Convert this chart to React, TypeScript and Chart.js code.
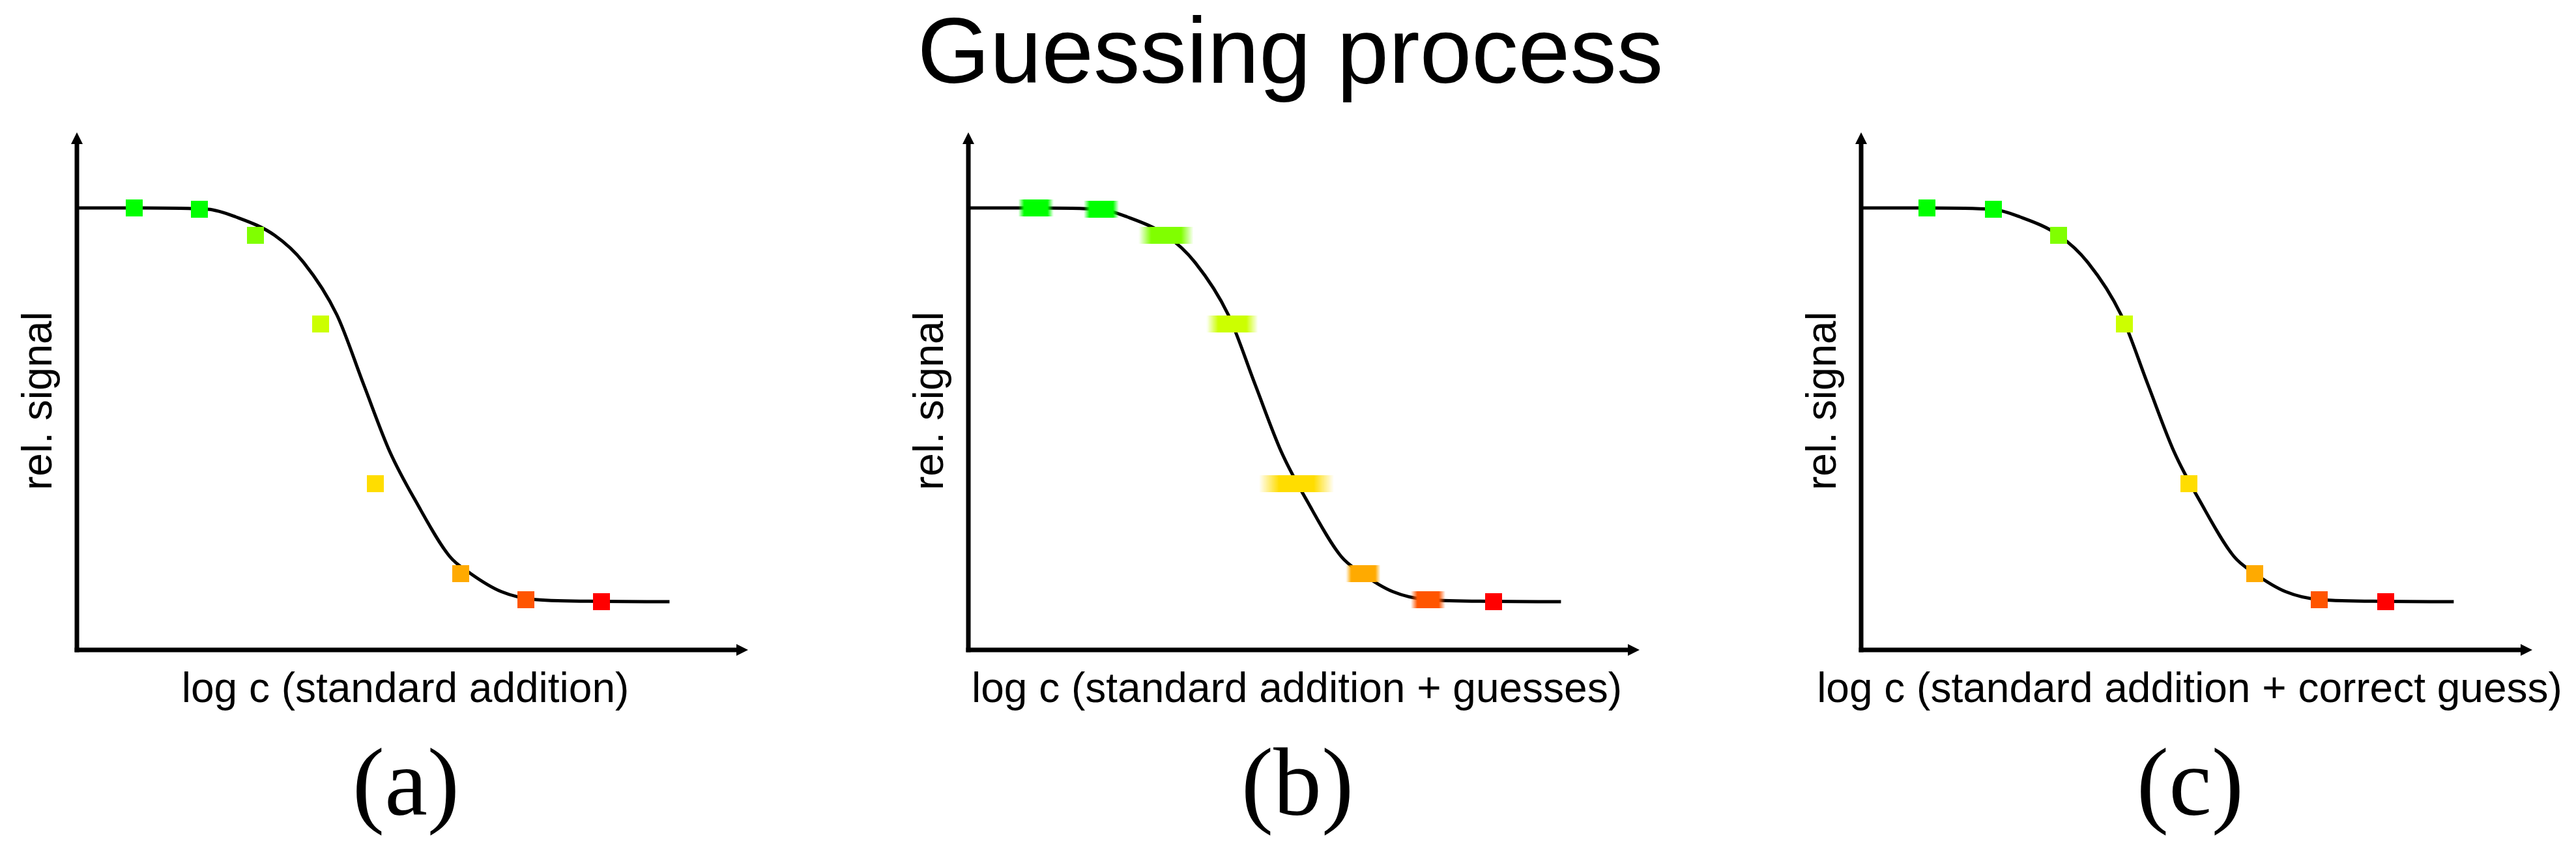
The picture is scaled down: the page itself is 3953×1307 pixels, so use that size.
import React, { useEffect, useRef } from "react";
import { Chart, registerables } from "chart.js";

Chart.register(...registerables);

// ---------- text ----------
const MAIN_TITLE = "Guessing process";
const PANEL_LABELS = ["(a)", "(b)", "(c)"];
const X_TITLES = [
  "log c (standard addition)",
  "log c (standard addition + guesses)",
  "log c (standard addition + correct guess)",
];
const Y_TITLE = "rel. signal";

// ---------- data ----------
// fitted calibration curve (log c, rel. signal)
const curveX = [0, 1.0, 2.0, 2.42, 3.02, 3.46, 3.97, 4.38, 4.78, 5.18, 5.69, 6.01, 6.48, 7.0, 8.0, 9.05];
const curveY = [1.0, 1.0, 0.997, 0.98, 0.938, 0.877, 0.758, 0.6, 0.448, 0.335, 0.212, 0.173, 0.132, 0.114, 0.11, 0.109];

// measured signals of the 8 standard-addition samples
const signalY = [1.0, 0.997, 0.938, 0.737, 0.376, 0.173, 0.114, 0.109];
// x positions (log c) in each panel
const logCStandard = [0.88, 1.87, 2.73, 3.72, 4.56, 5.86, 6.86, 8.01];
const logCGuesses = [1.03, 2.03, 3.02, 4.03, 5.01, 6.03, 7.02, 8.02];
const logCCorrect = [1.01, 2.02, 3.02, 4.02, 5.01, 6.01, 7.0, 8.01];

// axis ranges (arrow tips)
const X_MAX = 10.25;
const Y_MAX = 1.171;

// ---------- styles ----------
const MARKER_COLORS = ["#00ff00", "#00ff00", "#80ff00", "#ccff00", "#ffdd00", "#ffaa00", "#ff5500", "#ff0000"];
const MARKER_SIZE = 26;
// horizontal smear of the guessed points in panel (b): total width / fade width in px
const SMEAR_WIDTH = [54, 54, 84, 79, 115, 53, 53, 26];
const SMEAR_FADE = [9, 9, 19, 18, 31, 8, 10, 0];

const AXIS_LEFT = [118, 1486, 2856];
const AXIS_TOP = 203;
const AXIS_BOTTOM = 997;
const AXIS_LEN = 1030;
const PAD = 40;
const AXIS_W = 7;
const ARROW_LEN = 18;
const ARROW_HALF = 9;

const SANS = '"Liberation Sans", Arial, sans-serif';
const SERIF = '"Liberation Serif", "Times New Roman", serif';

function hexToRgb(hex: string) {
  const n = parseInt(hex.slice(1), 16);
  return [(n >> 16) & 255, (n >> 8) & 255, n & 255];
}

function makeMarker(color: string, width: number, fade: number): HTMLCanvasElement {
  const c = document.createElement("canvas");
  c.width = width;
  c.height = MARKER_SIZE;
  const g = c.getContext("2d")!;
  if (fade <= 0) {
    g.fillStyle = color;
  } else {
    const [r, gg, b] = hexToRgb(color);
    const grad = g.createLinearGradient(0, 0, width, 0);
    const f = fade / width;
    grad.addColorStop(0, `rgba(${r},${gg},${b},0)`);
    grad.addColorStop(f, `rgba(${r},${gg},${b},1)`);
    grad.addColorStop(1 - f, `rgba(${r},${gg},${b},1)`);
    grad.addColorStop(1, `rgba(${r},${gg},${b},0)`);
    g.fillStyle = grad;
  }
  g.fillRect(0, 0, width, MARKER_SIZE);
  return c;
}

const arrowAxes = {
  id: "arrowAxes",
  beforeDatasetsDraw(chart: any) {
    const { ctx, scales } = chart;
    const xs = scales.x;
    const ys = scales.y;
    const x0 = xs.getPixelForValue(0);
    const y0 = ys.getPixelForValue(0);
    const x1 = xs.getPixelForValue(X_MAX);
    const y1 = ys.getPixelForValue(Y_MAX);
    ctx.save();
    ctx.strokeStyle = "#000";
    ctx.fillStyle = "#000";
    ctx.lineWidth = AXIS_W;
    ctx.lineCap = "butt";
    ctx.beginPath();
    ctx.moveTo(x0 - AXIS_W / 2, y0);
    ctx.lineTo(x1 - ARROW_LEN + 2, y0);
    ctx.stroke();
    ctx.beginPath();
    ctx.moveTo(x0, y0 + AXIS_W / 2);
    ctx.lineTo(x0, y1 + ARROW_LEN - 2);
    ctx.stroke();
    ctx.beginPath();
    ctx.moveTo(x1, y0);
    ctx.lineTo(x1 - ARROW_LEN, y0 - ARROW_HALF);
    ctx.lineTo(x1 - ARROW_LEN, y0 + ARROW_HALF);
    ctx.closePath();
    ctx.fill();
    ctx.beginPath();
    ctx.moveTo(x0, y1);
    ctx.lineTo(x0 - ARROW_HALF, y1 + ARROW_LEN);
    ctx.lineTo(x0 + ARROW_HALF, y1 + ARROW_LEN);
    ctx.closePath();
    ctx.fill();
    ctx.restore();
  },
};

function Panel({ index, xs, smeared }: { index: number; xs: number[]; smeared: boolean }) {
  const ref = useRef<HTMLCanvasElement>(null);
  const w = AXIS_LEN + 2 * PAD;
  const h = AXIS_BOTTOM - AXIS_TOP + 2 * PAD;
  useEffect(() => {
    const styles = MARKER_COLORS.map((col, i) =>
      smeared ? makeMarker(col, SMEAR_WIDTH[i], SMEAR_FADE[i]) : makeMarker(col, MARKER_SIZE, 0)
    );
    const chart = new Chart(ref.current!, {
      type: "scatter",
      data: {
        datasets: [
          {
            data: xs.map((x, i) => ({ x, y: signalY[i] })),
            pointStyle: (c: any) => styles[c.dataIndex],
            pointRadius: 13,
            pointBorderWidth: 0,
            showLine: false,
            order: 0,
            clip: false,
          } as any,
          {
            data: curveX.map((x, i) => ({ x, y: curveY[i] })),
            showLine: true,
            borderColor: "#000",
            borderWidth: 5,
            pointRadius: 0,
            cubicInterpolationMode: "monotone",
            fill: false,
            order: 1,
            clip: false,
          } as any,
        ],
      },
      options: {
        animation: false,
        responsive: false,
        maintainAspectRatio: false,
        events: [],
        layout: { padding: { left: PAD, right: PAD, top: PAD, bottom: PAD } },
        scales: {
          x: { type: "linear", min: 0, max: X_MAX, display: false },
          y: { type: "linear", min: 0, max: Y_MAX, display: false },
        },
        plugins: {
          legend: { display: false },
          tooltip: { enabled: false },
          title: { display: false },
        },
      },
      plugins: [arrowAxes],
    });
    return () => chart.destroy();
  }, []);

  const axis = AXIS_LEFT[index];
  const center = axis + 504;
  return (
    <>
      <canvas
        ref={ref}
        width={w}
        height={h}
        style={{ position: "absolute", left: axis - PAD, top: AXIS_TOP - PAD, width: w, height: h }}
      />
      <div
        style={{
          position: "absolute",
          left: center,
          top: 1077 - 0.8465 * 64,
          transform: "translateX(-50%)",
          font: `64px ${SANS}`,
          lineHeight: "64px",
          whiteSpace: "nowrap",
          color: "#000",
        }}
      >
        {X_TITLES[index]}
      </div>
      <div
        style={{
          position: "absolute",
          left: axis - 61,
          top: 615,
          transform: "translate(-50%, -50%) rotate(-90deg)",
          font: `64px ${SANS}`,
          lineHeight: "64px",
          whiteSpace: "nowrap",
          color: "#000",
        }}
      >
        {Y_TITLE}
      </div>
      <div
        style={{
          position: "absolute",
          left: center + 1,
          top: 1250 - 0.8375 * 148,
          transform: "translateX(-50%)",
          font: `148px ${SERIF}`,
          lineHeight: "148px",
          whiteSpace: "nowrap",
          color: "#000",
        }}
      >
        {PANEL_LABELS[index]}
      </div>
    </>
  );
}

export default function App() {
  return (
    <div
      style={{
        position: "fixed",
        left: 0,
        top: 0,
        width: 3953,
        height: 1307,
        background: "#fff",
        overflow: "hidden",
      }}
    >
      <div
        style={{
          position: "absolute",
          left: 1980,
          top: 127 - 0.8465 * 143,
          transform: "translateX(-50%)",
          font: `143px ${SANS}`,
          lineHeight: "143px",
          whiteSpace: "nowrap",
          color: "#000",
        }}
      >
        {MAIN_TITLE}
      </div>
      <Panel index={0} xs={logCStandard} smeared={false} />
      <Panel index={1} xs={logCGuesses} smeared={true} />
      <Panel index={2} xs={logCCorrect} smeared={false} />
    </div>
  );
}
